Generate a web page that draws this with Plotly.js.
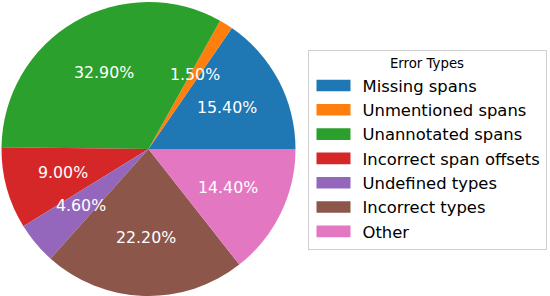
<!DOCTYPE html>
<html>
<head>
<meta charset="utf-8">
<script src="https://cdn.plot.ly/plotly-3.0.1.min.js"></script>
<style>
html,body{margin:0;padding:0;background:#fff;}
#chart{width:550px;height:296px;}
</style>
</head>
<body>
<div id="chart"></div>
<script>
const categories = ["Missing spans","Unmentioned spans","Unannotated spans","Incorrect span offsets","Undefined types","Incorrect types","Other"];
const values = [15.4, 1.5, 32.9, 9.0, 4.6, 22.2, 14.4];
const colors = ["#1f77b4","#ff7f0e","#2ca02c","#d62728","#9467bd","#8c564b","#e377c2"];
const legendTitle = "Error Types";

const W = 550, H = 296;
const dom = {x:[1.5/W, 295.5/W], y:[0/H, 294/H]};
const cx = (dom.x[0]+dom.x[1])/2*W, cy = (1-(dom.y[0]+dom.y[1])/2)*H;
const R = Math.min((dom.x[1]-dom.x[0])*W, (dom.y[1]-dom.y[0])*H)/2;

const total = values.reduce((a,b)=>a+b,0);
const annotations = [];
let acc = 0;
values.forEach((v,i)=>{
  const mid = (acc + v/2)/total*2*Math.PI;
  acc += v;
  const px = cx + 0.6*R*Math.cos(mid);
  const py = cy - 0.6*R*Math.sin(mid);
  annotations.push({
    x: px/W, y: 1-py/H, xref:'paper', yref:'paper',
    text: (v/total*100).toFixed(2)+'%', showarrow:false,
    font:{family:'DejaVu Sans', size:15.8, color:'#ffffff'},
    xanchor:'center', yanchor:'middle'
  });
});

// Plotly's counterclockwise pies end the first slice at the rotation angle,
// so shift so that the first slice starts at 3 o'clock (matplotlib startangle 0).
const rotation = 90 - values[0]/total*360;

const trace = {
  type:'pie', labels:categories, values:values, sort:false,
  direction:'counterclockwise', rotation:rotation,
  marker:{colors:colors, line:{width:0}},
  textinfo:'none', hoverinfo:'label+percent',
  domain:dom
};

const layout = {
  width:W, height:H, margin:{l:0,r:0,t:0,b:0},
  paper_bgcolor:'#fff', plot_bgcolor:'#fff',
  font:{family:'DejaVu Sans', color:'#000'},
  showlegend:true,
  legend:{
    x:307.5/W, xanchor:'left', y:0.5-2/H, yanchor:'middle',
    bgcolor:'#ffffff', bordercolor:'#d0d0d0', borderwidth:1,
    font:{family:'DejaVu Sans', size:16.4, color:'#000'},
    title:{text:legendTitle, side:'top center', font:{family:'DejaVu Sans', size:13.3, color:'#000'}},
    traceorder:'normal', itemwidth:44
  },
  annotations:annotations
};

Plotly.newPlot('chart',[trace],layout,{displayModeBar:false, staticPlot:true}).then(gd=>{
  gd.querySelectorAll('.legend .legendpoints path').forEach(p=>{
    p.setAttribute('d','M-19,5.8H15V-5.8H-19Z');
  });
});
</script>
</body>
</html>
